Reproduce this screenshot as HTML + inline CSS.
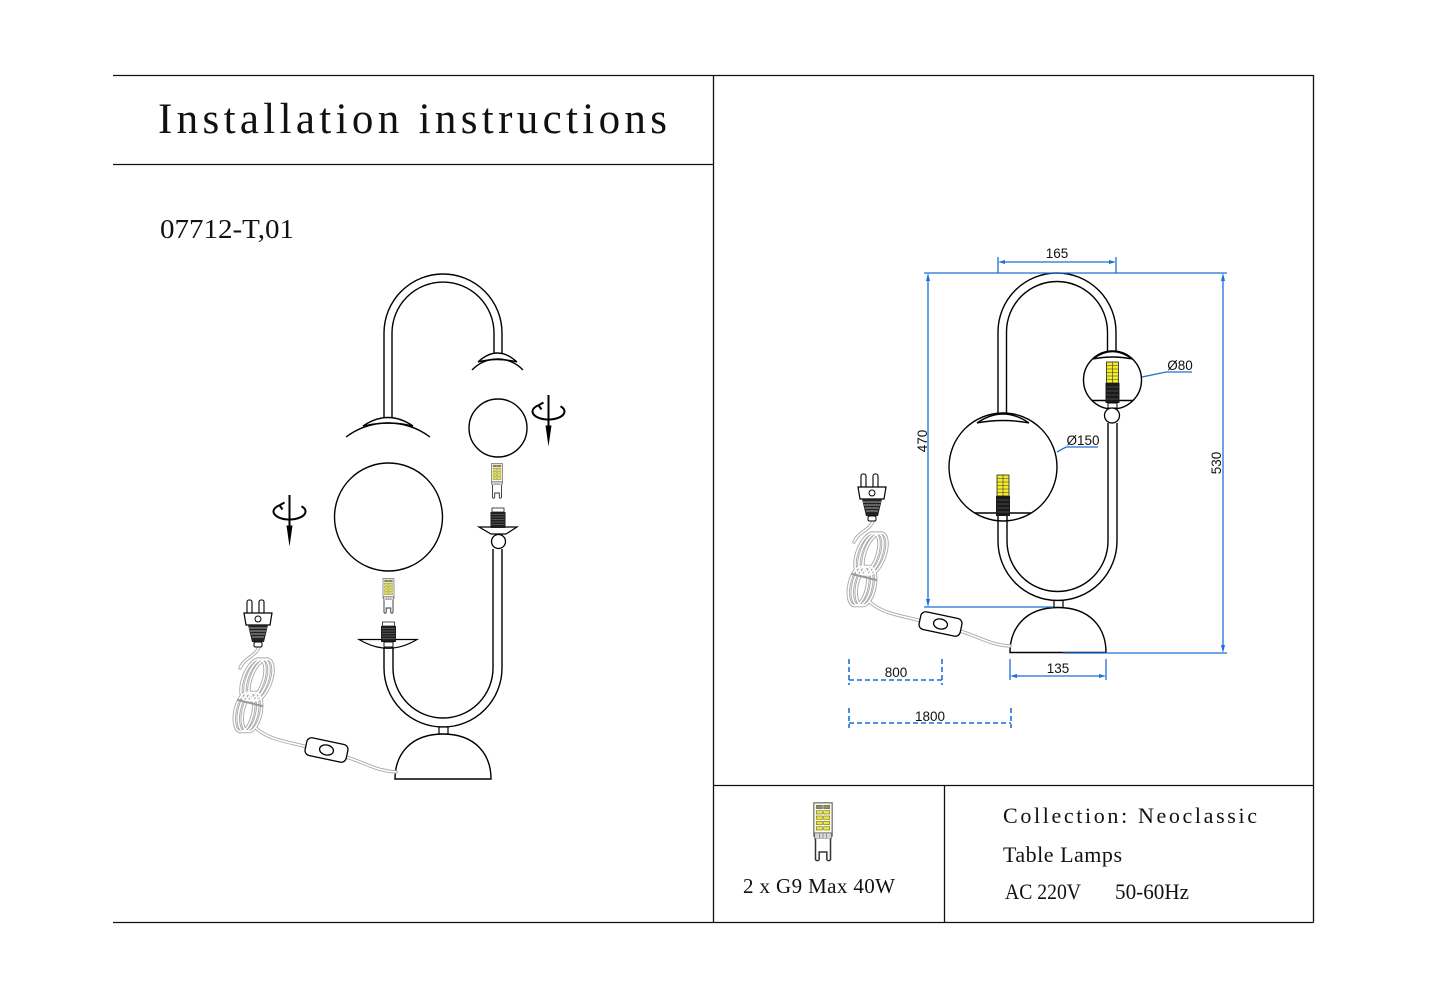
<!DOCTYPE html>
<html><head><meta charset="utf-8">
<style>
html,body{margin:0;padding:0;background:#fff;}
svg{display:block;}
</style></head><body>
<svg width="1429" height="1000" viewBox="0 0 1429 1000" xmlns="http://www.w3.org/2000/svg">
<defs>
  <g id="bl">
    <rect x="0.5" y="0.5" width="11" height="20" fill="#fdfbe6" stroke="#666" stroke-width="0.7"/>
    <g stroke="#6a6a30" stroke-width="0.35">
      <rect x="2" y="2" width="3.6" height="2" fill="#8a8a8a"/><rect x="6.4" y="2" width="3.6" height="2" fill="#8a8a8a"/>
      <g fill="#ebe737">
      <rect x="2" y="5.2" width="3.6" height="2"/><rect x="6.4" y="5.2" width="3.6" height="2"/>
      <rect x="2" y="8.4" width="3.6" height="2"/><rect x="6.4" y="8.4" width="3.6" height="2"/>
      <rect x="2" y="11.6" width="3.6" height="2"/><rect x="6.4" y="11.6" width="3.6" height="2"/>
      <rect x="2" y="14.8" width="3.6" height="2"/><rect x="6.4" y="14.8" width="3.6" height="2"/>
      </g>
    </g>
    <rect x="1" y="18.5" width="10" height="3.5" fill="#d8d8d8" stroke="#666" stroke-width="0.5"/>
    <path d="M4,18.5 V22 M6,18.5 V22 M8,18.5 V22" stroke="#777" stroke-width="0.4"/>
    <path d="M1.5,22 V34.5 Q2.6,36 3.7,34.5 V30 H8.3 V34.5 Q9.4,36 10.5,34.5 V22" fill="#fff" stroke="#333" stroke-width="0.9"/>
  </g>
  <g id="bd">
    <rect x="0" y="0" width="12" height="21" fill="#f4ec28" stroke="#222" stroke-width="0.8"/>
    <path d="M6,0 V21 M0,3.5 H12 M0,7 H12 M0,10.5 H12 M0,14 H12 M0,17.5 H12" stroke="#333" stroke-width="0.6"/>
    <rect x="-1" y="21" width="14" height="20" fill="#1a1a1a"/>
    <path d="M0,25 H12 M0,29 H12 M0,33 H12 M0,37 H12" stroke="#777" stroke-width="0.6"/>
  </g>
  <g id="sock">
    <rect x="2" y="0" width="12" height="4" fill="#fff" stroke="#222" stroke-width="0.8"/>
    <rect x="0.5" y="4" width="15" height="16" fill="#1e1e1e"/>
    <path d="M1.5,6.5 H14.5 M1.5,9 H14.5 M1.5,11.5 H14.5 M1.5,14 H14.5 M1.5,16.5 H14.5" stroke="#8a8a8a" stroke-width="0.6"/>
  </g>
  <g id="rot">
    <path d="M-10,-6.25 A16,8 0 1 0 12,-5.3" fill="none" stroke="#000" stroke-width="2"/>
    <path d="M-10,-6.25 L-5,-9 M-10,-6.25 L-7,-2" fill="none" stroke="#000" stroke-width="2"/>
    <path d="M0,-16.5 V16" stroke="#000" stroke-width="2"/>
    <path d="M-3,14 L3,14 L0,35 Z" fill="#000"/>
  </g>
  <g id="cordset">
    <g fill="none" stroke-linecap="round">
      <g stroke="#a8a8a8" stroke-width="3.4">
        <path d="M259,647 C256,656 244,658 240,668"/>
        <path d="M256,728 C268,740 290,742 307,747"/>
        <path d="M346,757 C366,763 376,771 396,772"/>
        <ellipse cx="253" cy="680" rx="10" ry="22" transform="rotate(20 253 680)"/>
        <ellipse cx="257" cy="680" rx="10" ry="22" transform="rotate(20 257 680)"/>
        <ellipse cx="261" cy="680" rx="10" ry="22" transform="rotate(20 261 680)"/>
        <ellipse cx="244" cy="712" rx="9" ry="20" transform="rotate(12 244 712)"/>
        <ellipse cx="248" cy="712" rx="9" ry="20" transform="rotate(12 248 712)"/>
        <ellipse cx="252" cy="712" rx="9" ry="20" transform="rotate(12 252 712)"/>
      </g>
      <g stroke="#fff" stroke-width="1.6">
        <path d="M259,647 C256,656 244,658 240,668"/>
        <path d="M256,728 C268,740 290,742 307,747"/>
        <path d="M346,757 C366,763 376,771 396,772"/>
        <ellipse cx="253" cy="680" rx="10" ry="22" transform="rotate(20 253 680)"/>
        <ellipse cx="257" cy="680" rx="10" ry="22" transform="rotate(20 257 680)"/>
        <ellipse cx="261" cy="680" rx="10" ry="22" transform="rotate(20 261 680)"/>
        <ellipse cx="244" cy="712" rx="9" ry="20" transform="rotate(12 244 712)"/>
        <ellipse cx="248" cy="712" rx="9" ry="20" transform="rotate(12 248 712)"/>
        <ellipse cx="252" cy="712" rx="9" ry="20" transform="rotate(12 252 712)"/>
      </g>
      <path d="M238,700 L262,706" stroke="#999" stroke-width="2"/>
    </g>
    <rect x="247" y="600" width="5" height="14" rx="2" fill="#fff" stroke="#000" stroke-width="1.1"/>
    <rect x="259" y="600" width="5" height="14" rx="2" fill="#fff" stroke="#000" stroke-width="1.1"/>
    <path d="M244,613 H272 L270,625 H246 Z" fill="#fff" stroke="#000" stroke-width="1.2"/>
    <circle cx="258" cy="619" r="3" fill="#fff" stroke="#000" stroke-width="1"/>
    <path d="M248,625 H268 L264,642 H252 Z" fill="#222"/>
    <path d="M249,628 H267 M250,631 H266 M251,634 H265 M252,637 H264" stroke="#ccc" stroke-width="0.8"/>
    <rect x="254" y="642" width="8" height="5" rx="1.5" fill="#fff" stroke="#000" stroke-width="1"/>
    <g transform="translate(326.5,750) rotate(12)">
      <rect x="-21" y="-9" width="42" height="18" rx="5" fill="#fff" stroke="#000" stroke-width="1.3"/>
      <ellipse cx="0" cy="0" rx="7" ry="5" fill="#fff" stroke="#000" stroke-width="1.3"/>
    </g>
  </g>
  <g id="base">
    <rect x="439" y="727" width="9" height="7" fill="#fff" stroke="#000" stroke-width="1.2"/>
    <path d="M395,779 C395,755 410,734 443,734 C476,734 491,755 491,779 Z" fill="#fff" stroke="#000" stroke-width="1.4"/>
  </g>
</defs>

<g stroke="#111" stroke-width="1.3" fill="none">
  <path d="M113,75.5 H1313.5"/>
  <path d="M113,164.5 H713.5"/>
  <path d="M113,922.5 H1313.5"/>
  <path d="M713.5,75 V922.5"/>
  <path d="M1313.5,75 V922.5"/>
  <path d="M713.5,785.5 H1313.5"/>
  <path d="M944.5,785.5 V922.5"/>
</g>

<g font-family="'Liberation Serif', 'Noto Serif CJK SC', serif" fill="#111">
  <text x="158" y="133" font-size="43" textLength="509" lengthAdjust="spacing">Installation instructions</text>
  <text x="160" y="238" font-size="27" textLength="134" lengthAdjust="spacingAndGlyphs">07712-T,01</text>
  <text x="743" y="893" font-size="21" textLength="152" lengthAdjust="spacing">2 x G9 Max 40W</text>
  <text x="1003" y="823" font-size="22" textLength="254" lengthAdjust="spacing">Collection: Neoclassic</text>
  <text x="1003" y="862" font-size="22" textLength="119" lengthAdjust="spacing">Table Lamps</text>
  <text x="1005" y="899" font-size="22" textLength="76" lengthAdjust="spacingAndGlyphs">AC 220V</text>
  <text x="1115" y="899" font-size="22" textLength="74" lengthAdjust="spacingAndGlyphs">50-60Hz</text>
</g>

<use href="#bl" transform="translate(813,802) scale(1.667)"/>

<g fill="none" stroke="#000" stroke-width="1.4">
  <path d="M384,418 V333 A59,59 0 0 1 502,333 V353"/>
  <path d="M392,418 V333 A51,51 0 0 1 494,333 V353"/>
  <path d="M363,426 Q388,409 413,426 Q388,420 363,426 Z" fill="#fff"/>
  <path d="M346,437 A70,70 0 0 1 430,437"/>
  <path d="M478,362 Q497.5,344 517,362 Q497.5,357 478,362 Z" fill="#fff"/>
  <path d="M472,370 A35,35 0 0 1 523,370"/>
  <circle cx="498" cy="428" r="29"/>
  <circle cx="388.5" cy="517" r="54"/>
</g>
<use href="#rot" transform="translate(548.5,411.5)"/>
<use href="#rot" transform="translate(289.5,511.5)"/>
<use href="#bl" transform="translate(491,463)"/>
<use href="#bl" transform="translate(382.5,578)"/>
<path d="M479,527 H517 L506,534 H491 Z" fill="#fff" stroke="#000" stroke-width="1.2"/>
<use href="#sock" transform="translate(490,508)"/>
<circle cx="498.5" cy="541.5" r="7" fill="#fff" stroke="#000" stroke-width="1.3"/>
<g fill="none" stroke="#000" stroke-width="1.4">
  <path d="M384,647 V668 A59,59 0 0 0 502,668 V549"/>
  <path d="M393,647 V668 A50,50 0 0 0 493,668 V549"/>
</g>
<path d="M359,639.5 H417 Q388,657 359,639.5 Z" fill="#fff" stroke="#000" stroke-width="1.2"/>
<use href="#sock" transform="translate(380.5,622)"/>
<rect x="384" y="642" width="9" height="5" fill="#fff" stroke="#000" stroke-width="0.9"/>
<use href="#base"/>
<use href="#cordset"/>

<g fill="none" stroke="#000" stroke-width="1.4">
  <path d="M998,415 V332 A59,59 0 0 1 1116,332 V352"/>
  <path d="M1006.5,416 V332 A50.5,50.5 0 0 1 1107.5,332 V352"/>
  <circle cx="1112.5" cy="380" r="29"/>
  <path d="M1093,359 Q1112.5,344 1132,359 Q1112.5,355 1093,359 Z" fill="#fff"/>
  <path d="M1091.5,400.5 H1133.5"/>
  <circle cx="1003" cy="467" r="54"/>
  <path d="M977,423 Q1003,405 1029,423 Q1003,418 977,423 Z" fill="#fff"/>
  <path d="M975,513 H1031"/>
</g>
<use href="#bd" transform="translate(1106.5,362)"/>
<use href="#bd" transform="translate(997,475)"/>
<rect x="1108" y="403" width="9" height="5" fill="#fff" stroke="#000" stroke-width="1"/>
<circle cx="1112" cy="415.5" r="7.5" fill="#fff" stroke="#000" stroke-width="1.3"/>
<g fill="none" stroke="#000" stroke-width="1.4">
  <path d="M998,516 V541 A59.5,59.5 0 0 0 1117,541 V423"/>
  <path d="M1007,516 V541 A50.5,50.5 0 0 0 1108,541 V423"/>
</g>
<use href="#base" transform="translate(615,-126.5)"/>
<use href="#cordset" transform="translate(614,-126)"/>

<g stroke="#1e6fd9" stroke-width="1.3" fill="none">
  <path d="M924,273 H1227"/>
  <path d="M998,257 V273 M1116,257 V273"/>
  <path d="M1003,262 H1111"/>
  <path d="M928,278 V602"/>
  <path d="M924,607 H1053"/>
  <path d="M1223,278 V648"/>
  <path d="M1063,653 H1227"/>
  <path d="M1010,659 V680 M1106,659 V680"/>
  <path d="M1015,676 H1101"/>
  <path d="M1142,377 L1166,372 H1192"/>
  <path d="M1057,452 L1066,447 H1098"/>
</g>
<g fill="#1e6fd9">
  <path d="M998,262 L1005,260 L1005,264 Z"/>
  <path d="M1116,262 L1109,260 L1109,264 Z"/>
  <path d="M928,273 L926,281 L930,281 Z"/>
  <path d="M928,607 L926,599 L930,599 Z"/>
  <path d="M1223,273 L1221,281 L1225,281 Z"/>
  <path d="M1223,653 L1221,645 L1225,645 Z"/>
  <path d="M1010,676 L1017,674 L1017,678 Z"/>
  <path d="M1106,676 L1099,674 L1099,678 Z"/>
</g>
<g stroke="#1e6fd9" stroke-width="1.6" fill="none" stroke-dasharray="5,3">
  <path d="M849,659 V685 M942,659 V685"/>
  <path d="M849,680 H942"/>
  <path d="M849,708 V728 M1011,708 V728"/>
  <path d="M849,723 H1011"/>
</g>
<g font-family="'Liberation Sans', sans-serif" font-size="13.5" fill="#111" text-anchor="middle">
  <text x="1057" y="258">165</text>
  <text x="1180" y="370">Ø80</text>
  <text x="1083" y="445">Ø150</text>
  <text transform="translate(927,441) rotate(-90)">470</text>
  <text transform="translate(1221,463) rotate(-90)">530</text>
  <text x="1058" y="673">135</text>
  <text x="896" y="677">800</text>
  <text x="930" y="721">1800</text>
</g>
</svg>
</body></html>
